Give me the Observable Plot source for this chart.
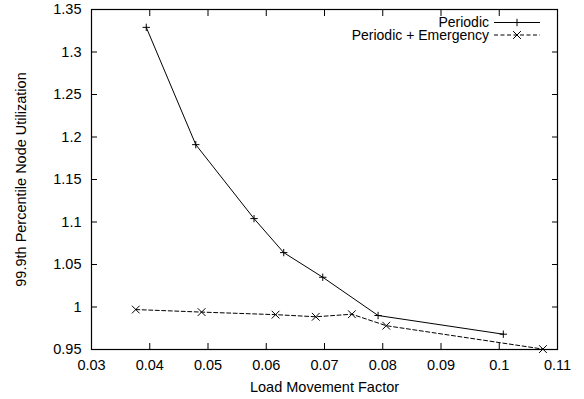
<!DOCTYPE html>
<html><head><meta charset="utf-8">
<script src="https://cdn.jsdelivr.net/npm/d3@7"></script>
<script src="https://cdn.jsdelivr.net/npm/@observablehq/plot@0.6"></script>
<style>
body{margin:0;background:#fff}
#chart{width:584px;height:399px}
</style></head><body><div id="chart"></div>
<script>
const seriesNames = ["Periodic", "Periodic + Emergency"];
const periodicX = [0.0394, 0.0479, 0.0579, 0.0630, 0.0697, 0.0792, 0.1007];
const periodicY = [1.329, 1.191, 1.104, 1.064, 1.035, 0.990, 0.968];
const emergencyX = [0.0376, 0.0489, 0.0616, 0.0685, 0.0747, 0.0806, 0.1075];
const emergencyY = [0.997, 0.994, 0.991, 0.9885, 0.9915, 0.978, 0.9505];
const xTicks = [0.03, 0.04, 0.05, 0.06, 0.07, 0.08, 0.09, 0.1, 0.11];
const yTicks = [0.95, 1, 1.05, 1.1, 1.15, 1.2, 1.25, 1.3, 1.35];
const xLabel = "Load Movement Factor";
const yLabel = "99.9th Percentile Node Utilization";

const periodic = periodicX.map((x, i) => ({x, y: periodicY[i]}));
const emergency = emergencyX.map((x, i) => ({x, y: emergencyY[i]}));
const fmt = d => String(+d.toFixed(2));
const FONT = "'Liberation Sans', Arial, Helvetica, sans-serif";
const DASH = "4,2.5";

const plot = Plot.plot({
  width: 584, height: 399,
  marginLeft: 91, marginRight: 27, marginTop: 9, marginBottom: 50,
  style: {fontFamily: FONT, fontSize: "14.5px", color: "black", background: "white", overflow: "visible"},
  x: {domain: [0.03, 0.11]},
  y: {domain: [0.95, 1.35]},
  marks: [
    Plot.axisX(xTicks, {anchor: "bottom", tickSize: -6, tickPadding: 16, tickFormat: fmt,
      label: xLabel, labelAnchor: "center", labelArrow: "none", labelOffset: 42}),
    Plot.axisX(xTicks, {anchor: "top", tickSize: -6, tickFormat: () => "", label: null}),
    Plot.axisY(yTicks, {anchor: "left", tickSize: -6, tickPadding: 16, tickFormat: fmt,
      label: yLabel, labelAnchor: "center", labelArrow: "none", labelOffset: 76}),
    Plot.axisY(yTicks, {anchor: "right", tickSize: -6, tickFormat: () => "", label: null}),
    Plot.frame({stroke: "black", strokeWidth: 1.2}),
    Plot.line(periodic, {x: "x", y: "y", stroke: "black", strokeWidth: 1}),
    Plot.dot(periodic, {x: "x", y: "y", symbol: "plus", r: 2.5, stroke: "black", strokeWidth: 1}),
    Plot.line(emergency, {x: "x", y: "y", stroke: "black", strokeWidth: 1, strokeDasharray: DASH}),
    Plot.dot(emergency, {x: "x", y: "y", symbol: "times", r: 3.6, stroke: "black", strokeWidth: 1})
  ]
});

// legend (gnuplot style, inside top-right)
const svg = d3.select(plot);
const legend = svg.append("g").attr("font-family", FONT).attr("font-size", 14);
const symbols = [d3.symbolPlus, d3.symbolTimes];
const symbolSizes = [20, 41];
const dashes = [null, DASH];
seriesNames.forEach((name, i) => {
  const cy = 22.5 + i * 12.5;
  legend.append("text").attr("x", 489).attr("y", cy).attr("dy", "0.35em")
    .attr("text-anchor", "end").attr("fill", "black").text(name);
  legend.append("line").attr("x1", 494).attr("x2", 540).attr("y1", cy).attr("y2", cy)
    .attr("stroke", "black").attr("stroke-dasharray", dashes[i]);
  legend.append("path").attr("transform", `translate(517,${cy})`)
    .attr("d", d3.symbol(symbols[i], symbolSizes[i])()).attr("fill", "none").attr("stroke", "black");
});

document.getElementById("chart").appendChild(plot);
</script></body></html>
